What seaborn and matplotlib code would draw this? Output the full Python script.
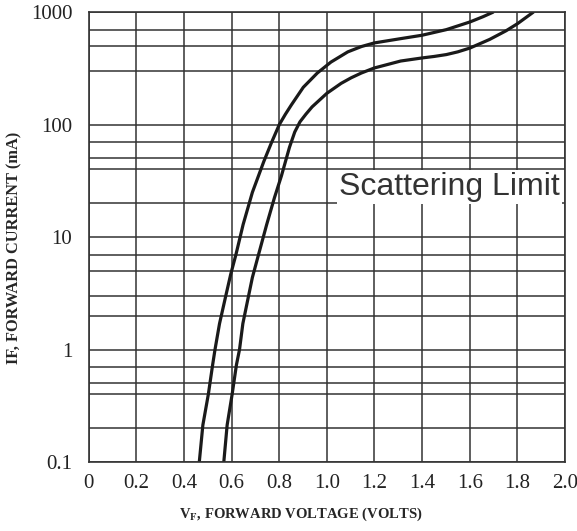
import numpy as np
import pandas as pd
import matplotlib
matplotlib.use("Agg")
import matplotlib.pyplot as plt
import seaborn as sns

# Forward voltage (V) / forward current (mA)
vf_left = [0.464, 0.479, 0.502, 0.520, 0.530, 0.549, 0.574, 0.596, 0.618, 0.648,
           0.687, 0.735, 0.767, 0.800, 0.826, 0.851, 0.901, 0.960, 1.017, 1.088,
           1.145, 1.199, 1.310, 1.400, 1.502, 1.601, 1.656, 1.698]
if_left = [0.1, 0.213, 0.40, 0.73, 1.0, 1.70, 2.92, 4.67, 7.0, 12.9,
           25, 47, 69, 100, 124, 150, 215, 288, 360, 444,
           495, 533, 582, 624, 700, 819, 912, 1000]

vf_right = [0.567, 0.581, 0.602, 0.620, 0.633, 0.647, 0.667, 0.687, 0.713, 0.747,
            0.780, 0.809, 0.843, 0.865, 0.887, 0.912, 0.938, 1.000, 1.060, 1.102,
            1.145, 1.199, 1.310, 1.400, 1.450, 1.502, 1.550, 1.601, 1.684, 1.753,
            1.801, 1.867]
if_right = [0.1, 0.213, 0.40, 0.73, 1.0, 1.70, 2.73, 4.37, 7.0, 12.9,
            22.5, 35, 63, 86, 106, 124, 144, 190, 233, 261,
            288, 319, 368, 392, 404, 420, 444, 480, 573, 684,
            791, 1000]

x_ticks = [0, 0.2, 0.4, 0.6, 0.8, 1.0, 1.2, 1.4, 1.6, 1.8, 2.0]
x_labels = ["0", "0.2", "0.4", "0.6", "0.8", "1.0", "1.2", "1.4", "1.6", "1.8", "2.0"]
y_ticks = [0.1, 1, 10, 100, 1000]
y_labels = ["0.1", "1", "10", "100", "1000"]
# the chart's own (irregular) minor grid lines
y_minor = [0.2, 0.4, 0.5, 0.7, 2, 3, 5, 7, 20, 40, 50, 70, 300, 500, 700]

sns.set_style("white")
plt.rcParams["font.family"] = ["Liberation Serif", "DejaVu Serif"]
plt.rcParams["mathtext.fontset"] = "stix"

df = pd.concat([
    pd.DataFrame({"vf": vf_left, "if": if_left, "curve": "a"}),
    pd.DataFrame({"vf": vf_right, "if": if_right, "curve": "b"}),
])

fig = plt.figure(figsize=(5.77, 5.31), dpi=100)
ax = fig.add_axes([0.154, 0.130, 0.825, 0.847])

sns.lineplot(data=df, x="vf", y="if", units="curve", estimator=None, sort=False,
             color="#1a1a1a", linewidth=2.3, ax=ax, legend=False)
for ln in ax.get_lines():
    ln.set_solid_joinstyle("round")

ax.set_yscale("log")
ax.set_xlim(0, 2.0)
ax.set_ylim(0.1, 1000)
ax.set_xticks(x_ticks)
ax.set_xticklabels(x_labels)
ax.set_yticks(y_ticks)
ax.set_yticklabels(y_labels)
ax.set_yticks(y_minor, minor=True)
ax.tick_params(axis="y", which="minor", length=0)
ax.tick_params(axis="both", which="major", length=0, labelsize=15, colors="#222222")
ax.tick_params(axis="x", pad=9)
ax.tick_params(axis="y", pad=12)

ax.set_axisbelow(True)
ax.grid(True, which="major", axis="both", color="#333333", linewidth=1.1)
ax.grid(True, which="minor", axis="y", color="#333333", linewidth=1.1)
for s in ax.spines.values():
    s.set_color("#333333")
    s.set_linewidth(1.2)

ax.set_xlabel(r"V$_\mathbf{F}$, FORWARD VOLTAGE (VOLTS)", fontsize=10.5,
              fontweight="bold")
ax.set_ylabel("IF, FORWARD CURRENT (mA)", fontsize=11.8, fontweight="bold")
ax.xaxis.set_label_coords(0.445, -0.098)
ax.yaxis.set_label_coords(-0.139, 0.476)

ax.text(1.978, 28, "Scattering Limit", family=["Liberation Sans", "DejaVu Sans"],
        fontsize=23, color="#333333", ha="right", va="center",
        bbox=dict(facecolor="white", edgecolor="none", pad=1.5))

fig.savefig("out.png", dpi=100)
